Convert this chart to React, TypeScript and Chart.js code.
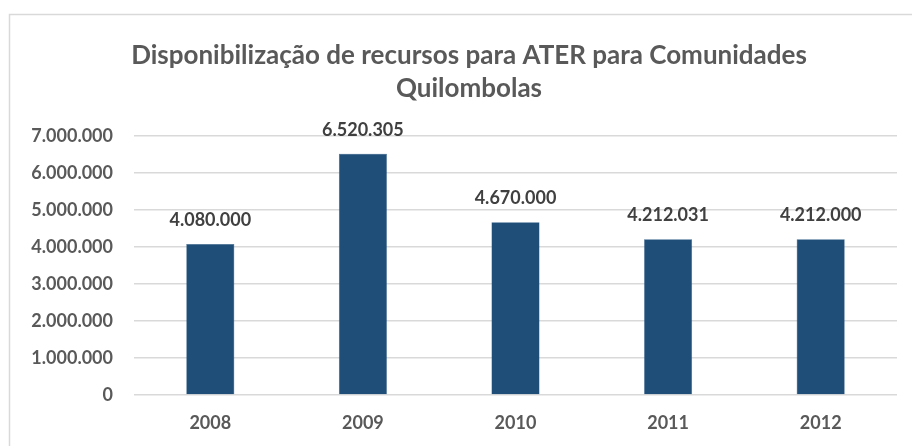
import React, { useEffect, useRef } from "react";
import { Chart, registerables } from "chart.js";

Chart.register(...registerables);

const titleLines = ["Disponibilização de recursos para ATER para Comunidades", "Quilombolas"];
const categories = ["2008", "2009", "2010", "2011", "2012"];
const values = [4080000, 6520305, 4670000, 4212031, 4212000];
const yMax = 7000000;
const yStep = 1000000;

const FONT = "Lato, 'Open Sans', sans-serif";

function fmt(n: number): string {
  const s = Math.round(n).toString();
  return s.replace(/\B(?=(\d{3})+(?!\d))/g, ".");
}

const decorPlugin = {
  id: "decor",
  beforeDraw(chart: any) {
    const ctx = chart.ctx;
    ctx.save();
    ctx.strokeStyle = "#d9d9d9";
    ctx.lineWidth = 1.5;
    ctx.beginPath();
    ctx.moveTo(9.5, 460);
    ctx.lineTo(9.5, 14.5);
    ctx.lineTo(930, 14.5);
    ctx.stroke();
    ctx.restore();
  },
  afterDraw(chart: any) {
    const ctx = chart.ctx;
    ctx.save();
    // title
    ctx.fillStyle = "#595959";
    ctx.textAlign = "center";
    ctx.textBaseline = "middle";
    ctx.font = `bold 24px ${FONT}`;
    const w = ctx.measureText(titleLines[0]).width;
    const size = 24 * (676 / w);
    ctx.font = `bold ${size}px ${FONT}`;
    ctx.fillText(titleLines[0], 469, 56);
    ctx.fillText(titleLines[1], 469, 89);
    // data labels
    const meta = chart.getDatasetMeta(0);
    ctx.fillStyle = "#404040";
    ctx.font = `bold 18px ${FONT}`;
    meta.data.forEach((bar: any, i: number) => {
      ctx.fillText(fmt(values[i]), bar.x, bar.y - 24);
    });
    ctx.restore();
  },
};

export default function App() {
  const ref = useRef<HTMLCanvasElement>(null);
  useEffect(() => {
    if (!ref.current) return;
    const chart = new Chart(ref.current, {
      type: "bar",
      data: {
        labels: categories,
        datasets: [
          {
            data: values,
            backgroundColor: "#1f4e79",
            borderColor: "#2a5a86",
            borderWidth: 0.5,
            categoryPercentage: 1,
            barPercentage: 0.315,
          },
        ],
      },
      options: {
        responsive: false,
        animation: false,
        layout: { padding: { top: 136, right: 15, bottom: 0, left: 0 } },
        plugins: {
          legend: { display: false },
          title: { display: false },
          tooltip: { enabled: false },
        },
        scales: {
          x: {
            afterFit(scale: any) {
              scale.height = 51;
            },
            grid: { display: false, drawTicks: false },
            border: { display: false },
            ticks: {
              padding: 17,
              color: "#595959",
              font: { family: FONT, size: 18, weight: "bold" },
            },
          },
          y: {
            min: 0,
            max: yMax,
            afterFit(scale: any) {
              scale.width = 134;
            },
            grid: { color: "#d9d9d9", lineWidth: 1.5, drawTicks: false },
            border: { display: false },
            ticks: {
              stepSize: yStep,
              padding: 21,
              color: "#595959",
              font: { family: FONT, size: 18, weight: "bold" },
              callback: (v: any) => fmt(Number(v)),
            },
          },
        },
      },
      plugins: [decorPlugin],
    });
    return () => chart.destroy();
  }, []);
  return (
    <div style={{ position: "absolute", left: 0, top: 0, width: 912, height: 446, background: "#fff" }}>
      <canvas ref={ref} width={912} height={446} />
    </div>
  );
}
